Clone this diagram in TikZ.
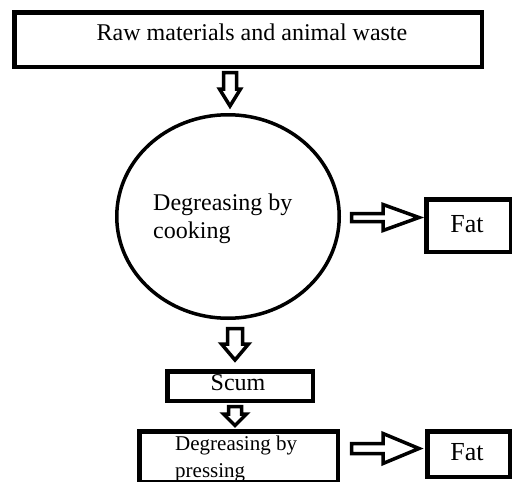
\documentclass[tikz,border=0pt]{standalone}
\usepackage{fontspec}
\setmainfont{Liberation Serif}
\usetikzlibrary{shapes.geometric}
\begin{document}
\begin{tikzpicture}[x=1pt,y=-1pt,
  box/.style={draw,line width=4.5pt},
  barrow/.style={draw,line width=3.5pt,line join=miter,fill=white},
  lbl/.style={inner sep=0pt,font=\fontsize{24}{28}\selectfont},
  lblbig/.style={inner sep=0pt,font=\fontsize{26}{30}\selectfont},
  lblsm/.style={inner sep=0pt,font=\fontsize{21}{27}\selectfont}]
\useasboundingbox (0,0) rectangle (512,482);
\fill[white] (0,0) rectangle (512,482);
% boxes
\node[box,minimum width=467.5pt,minimum height=54.5pt,anchor=north west] (raw) at (12.25,10.25) {};
\node[lbl,anchor=base] (rawt) at (252,40) {Raw materials and animal waste};
\node[draw,ellipse,line width=3.5pt,minimum width=222.5pt,minimum height=203.5pt,inner sep=0pt] (cook) at (228,216.5) {};
\node[lbl,anchor=base west] (cookt) at (153,210) {Degreasing by};
\node[lbl,anchor=base west] (cookt2) at (153,238) {cooking};
\node[box,minimum width=84.5pt,minimum height=52.5pt,anchor=north west] (fat1) at (424.25,197.25) {};
\node[lblbig,anchor=base] (fat1t) at (467,232) {Fat};
\node[box,minimum width=145.5pt,minimum height=29.5pt,anchor=north west] (scum) at (165.25,369.25) {};
\node[lbl,anchor=base] (scumt) at (238,390) {Scum};
\node[box,minimum width=198.5pt,minimum height=50.5pt,anchor=north west] (press) at (137.25,429.25) {};
\node[lblsm,anchor=base west] (presst) at (175,450) {Degreasing by};
\node[lblsm,anchor=base west] (presst2) at (175,477) {pressing};
\node[box,minimum width=82.5pt,minimum height=45.5pt,anchor=north west] (fat2) at (425.25,429.25) {};
\node[lblbig,anchor=base] (fat2t) at (467,460) {Fat};
% block arrows (down)
\draw[barrow] (223.5,72.5) -- (236.5,72.5) -- (236.5,89) -- (240.5,89) -- (230,106) -- (219.5,89) -- (223.5,89) -- cycle;
\draw[barrow] (227.5,328.5) -- (242.5,328.5) -- (242.5,344) -- (248.5,344) -- (235,360) -- (221.5,344) -- (227.5,344) -- cycle;
\draw[barrow] (228.5,406.5) -- (241.5,406.5) -- (241.5,414) -- (246.5,414) -- (235,425.5) -- (223.5,414) -- (228.5,414) -- cycle;
% block arrows (right)
\draw[barrow] (351.5,213.5) -- (383,213.5) -- (383,204.5) -- (419,217.5) -- (383,230.5) -- (383,221.5) -- (351.5,221.5) -- cycle;
\draw[barrow] (351.5,443.5) -- (383,443.5) -- (383,433.5) -- (419,448.5) -- (383,463.5) -- (383,453.5) -- (351.5,453.5) -- cycle;
\end{tikzpicture}
\end{document}
